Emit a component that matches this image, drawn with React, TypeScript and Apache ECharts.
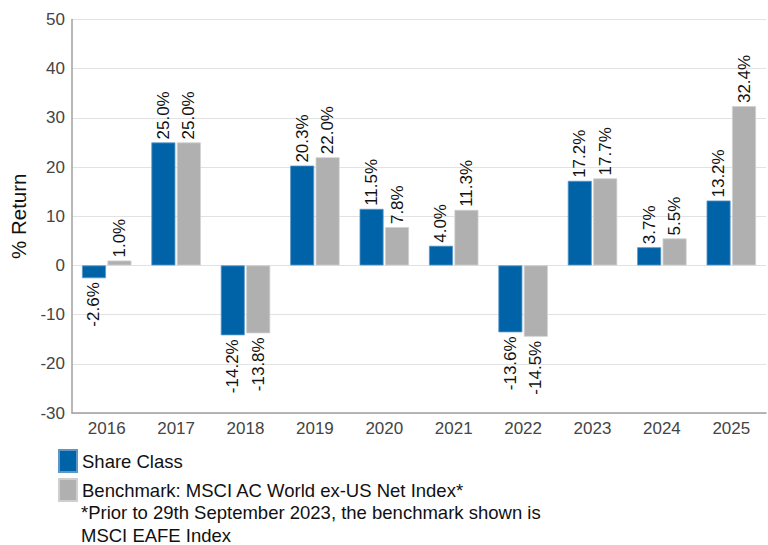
import React, { useEffect, useRef } from "react";
import * as echarts from "echarts";

const years = ["2016", "2017", "2018", "2019", "2020", "2021", "2022", "2023", "2024", "2025"];
const shareClass = [-2.6, 25.0, -14.2, 20.3, 11.5, 4.0, -13.6, 17.2, 3.7, 13.2];
const benchmark = [1.0, 25.0, -13.8, 22.0, 7.8, 11.3, -14.5, 17.7, 5.5, 32.4];
const seriesNames = ["Share Class", "Benchmark: MSCI AC World ex-US Net Index*"];
const footnoteLines = ["*Prior to 29th September 2023, the benchmark shown is", "MSCI EAFE Index"];
const yTicks = { min: -30, max: 50, interval: 10 };

const FONT = "'Liberation Sans', Arial, sans-serif";

function buildData(values: number[]) {
  return values.map((v) => ({
    value: v,
    label:
      v >= 0
        ? { position: "top", align: "left", verticalAlign: "middle", distance: 3 }
        : { position: "bottom", align: "right", verticalAlign: "middle", distance: 4 },
  }));
}

export default function App() {
  const ref = useRef<HTMLDivElement>(null);
  useEffect(() => {
    if (!ref.current) return;
    const chart = echarts.init(ref.current, undefined, { renderer: "svg" });
    const labelBase = {
      show: true,
      rotate: 90,
      fontSize: 17,
      fontFamily: FONT,
      color: "#111",
      formatter: (p: any) => Number(p.value).toFixed(1) + "%",
    };
    chart.setOption({
      animation: false,
      backgroundColor: "#fff",
      textStyle: { fontFamily: FONT },
      grid: { left: 69.5, right: 2, top: 19.5, bottom: 132, containLabel: false },
      legend: {
        orient: "vertical",
        left: 58,
        top: 449,
        icon: "rect",
        itemWidth: 18,
        itemHeight: 22,
        itemGap: 5,
        padding: 0,
        textStyle: { fontSize: 18.5, color: "#111", fontFamily: FONT },
        data: seriesNames,
      },
      graphic: [
        {
          type: "text",
          left: 81,
          top: 501,
          style: {
            text: footnoteLines.join("\n"),
            fontSize: 18.5,
            lineHeight: 23,
            fill: "#111",
            fontFamily: FONT,
          },
        },
      ],
      xAxis: {
        type: "category",
        data: years,
        axisLine: { onZero: false, lineStyle: { color: "#a0a0a0", width: 1.5 } },
        axisTick: { show: false },
        axisLabel: { fontSize: 17, color: "#444", margin: 7, fontFamily: FONT },
      },
      yAxis: {
        type: "value",
        min: yTicks.min,
        max: yTicks.max,
        interval: yTicks.interval,
        name: "% Return",
        nameLocation: "middle",
        nameGap: 43,
        nameTextStyle: { fontSize: 20.5, color: "#111", fontFamily: FONT },
        axisLine: { show: true, lineStyle: { color: "#a0a0a0", width: 1.5 } },
        axisTick: { show: false },
        axisLabel: { fontSize: 17, color: "#444", margin: 7, fontFamily: FONT },
        splitLine: { lineStyle: { color: "#e2e2e2", width: 1.2 } },
      },
      series: [
        {
          name: seriesNames[0],
          type: "bar",
          data: buildData(shareClass),
          barWidth: 24,
          barGap: "6%",
          itemStyle: { color: "#0063a8", borderColor: "#5b97c9", borderWidth: 0.8 },
          label: labelBase,
        },
        {
          name: seriesNames[1],
          type: "bar",
          data: buildData(benchmark),
          barWidth: 24,
          barGap: "6%",
          itemStyle: { color: "#b0b0b0", borderColor: "#cfcfcf", borderWidth: 0.8 },
          label: labelBase,
        },
      ],
    });
    return () => chart.dispose();
  }, []);
  return <div ref={ref} style={{ width: 768, height: 545, position: "absolute", left: 0, top: 0 }} />;
}
